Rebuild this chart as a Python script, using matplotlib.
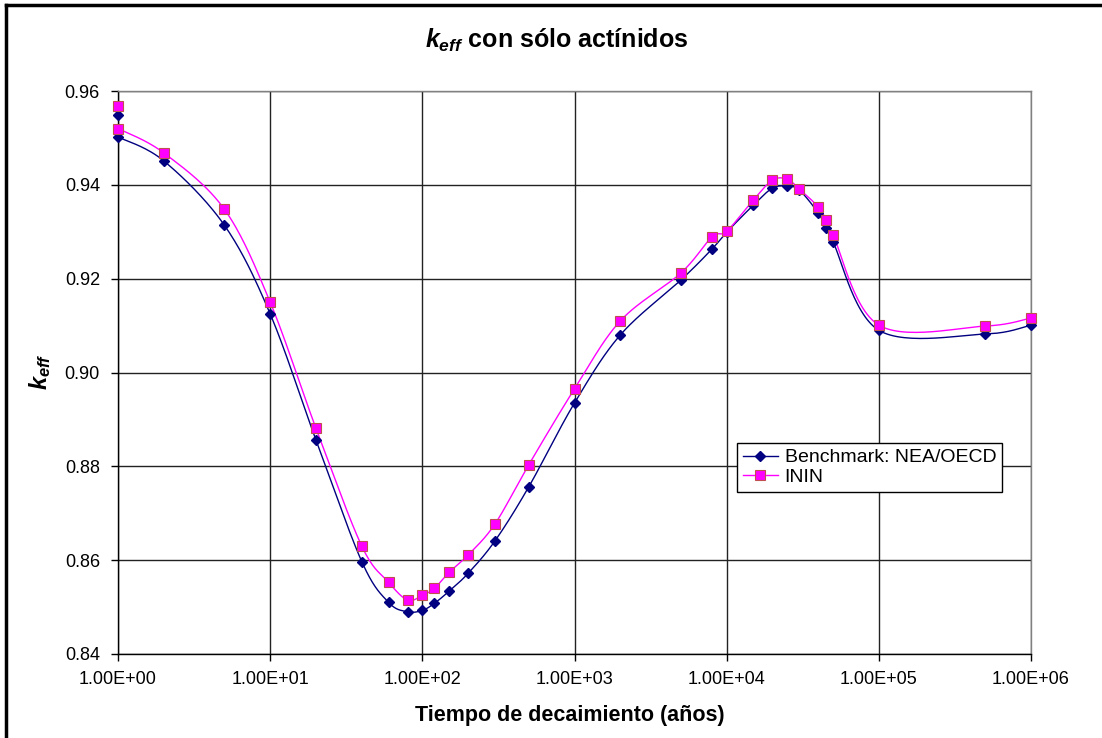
import numpy as np
import matplotlib
matplotlib.use("Agg")
import matplotlib.pyplot as plt
from matplotlib.lines import Line2D

plt.rcParams['font.family'] = ['Liberation Sans', 'DejaVu Sans']
plt.rcParams['mathtext.fontset'] = 'custom'
plt.rcParams['mathtext.it'] = 'Liberation Sans:italic:bold'
plt.rcParams['mathtext.rm'] = 'Liberation Sans:bold'
plt.rcParams['mathtext.bf'] = 'Liberation Sans:bold'

# ---- data ----
years = [1, 2, 5, 10, 20, 40, 60, 80, 100, 120, 150, 200, 300, 500, 1000,
         2000, 5000, 8000, 10000, 15000, 20000, 25000, 30000, 40000, 45000,
         50000, 100000, 500000, 1000000]
bench = [0.9502, 0.9451, 0.9314, 0.9125, 0.8856, 0.8597, 0.8510, 0.8490,
         0.8493, 0.8508, 0.8534, 0.8572, 0.8641, 0.8756, 0.8935,
         0.9080, 0.9197, 0.9263, 0.9299, 0.9357, 0.9393, 0.9397, 0.9389,
         0.9340, 0.9308, 0.9278, 0.9090, 0.9082, 0.9101]
inin = [0.9520, 0.9468, 0.9348, 0.9150, 0.8881, 0.8630, 0.8553, 0.8515,
        0.8525, 0.8540, 0.8574, 0.8611, 0.8677, 0.8803, 0.8965,
        0.9110, 0.9212, 0.9289, 0.9301, 0.9368, 0.9410, 0.9412, 0.9391,
        0.9353, 0.9325, 0.9293, 0.9101, 0.9099, 0.9116]
# fresh-fuel values (time 0), drawn at the left edge of the log axis
bench_t0 = 0.9549
inin_t0 = 0.9568

series_names = ["Benchmark: NEA/OECD", "ININ"]
yticks = [0.84, 0.86, 0.88, 0.90, 0.92, 0.94, 0.96]
xticks = [1e0, 1e1, 1e2, 1e3, 1e4, 1e5, 1e6]
xticklabels = ["1.00E+00", "1.00E+01", "1.00E+02", "1.00E+03", "1.00E+04",
               "1.00E+05", "1.00E+06"]

XMIN, XMAX, YMIN, YMAX = 1, 1e6, 0.84, 0.96

fig = plt.figure(figsize=(11.02, 7.38), dpi=100)
ax = fig.add_axes([118/1102, 1-654/738, (1031-118)/1102, (654-91)/738])
ax.set_xscale('log')
ax.set_xlim(XMIN, XMAX)
ax.set_ylim(YMIN, YMAX)


def smooth(xs, ys, n=30):
    # Catmull-Rom spline in display-like space (log x, linear y)
    u = np.log10(np.asarray(xs, float)) / 6.0 * 913
    v = (np.asarray(ys, float) - YMIN) / (YMAX - YMIN) * 563
    P = np.column_stack([u, v])
    P = np.vstack([P[0], P, P[-1]])
    out = []
    for i in range(1, len(P) - 2):
        p0, p1, p2, p3 = P[i-1], P[i], P[i+1], P[i+2]
        t = np.linspace(0, 1, n, endpoint=False)[:, None]
        c = 0.5 * ((2*p1) + (-p0+p2)*t + (2*p0-5*p1+4*p2-p3)*t**2 +
                   (-p0+3*p1-3*p2+p3)*t**3)
        out.append(c)
    out.append(P[-2][None, :])
    out = np.vstack(out)
    xs2 = 10 ** (out[:, 0] / 913 * 6.0)
    ys2 = out[:, 1] / 563 * (YMAX - YMIN) + YMIN
    return xs2, ys2


navy = '#000080'
mag = '#FF00FF'
sq_edge = '#C0504D'

bx, by = smooth(years, bench)
ix, iy = smooth(years, inin)
ax.plot(bx, by, color=navy, lw=1.0, zorder=3, clip_on=False)
ax.plot(ix, iy, color=mag, lw=1.0, zorder=3, clip_on=False)
ax.plot(years + [1], bench + [bench_t0], ls='none', marker='D', ms=5,
        color=navy, mec=navy, zorder=4, clip_on=False)
ax.plot(years + [1], inin + [inin_t0], ls='none', marker='s', ms=7,
        color=mag, mec=sq_edge, mew=0.8, zorder=5, clip_on=False)

ax.set_xticks(xticks)
ax.set_xticklabels(xticklabels)
ax.xaxis.set_minor_locator(matplotlib.ticker.NullLocator())
ax.set_yticks(yticks)
ax.set_yticklabels([f"{t:.2f}" for t in yticks])
ax.tick_params(axis='both', which='major', direction='out', length=5,
               width=1, color='black', labelsize=13, colors='black')
ax.tick_params(axis='x', pad=7)
ax.tick_params(axis='y', pad=8)
for lab in ax.get_xticklabels() + ax.get_yticklabels():
    lab.set_color('black')

ax.grid(True, which='major', color='#222222', lw=1.0, zorder=1)
ax.set_axisbelow(True)
ax.spines['left'].set_color('black')
ax.spines['bottom'].set_color('black')
ax.spines['top'].set_color('#808080')
ax.spines['right'].set_color('#808080')
for s in ax.spines.values():
    s.set_linewidth(1.0)

handles = [
    Line2D([0], [0], color=navy, lw=1.0, marker='D', ms=5, mec=navy),
    Line2D([0], [0], color=mag, lw=1.0, marker='s', ms=7, mfc=mag,
           mec=sq_edge, mew=0.8),
]
leg = ax.legend(handles, series_names, loc='upper left',
                bbox_to_anchor=((737-118)/913, (654-443)/563),
                borderaxespad=0, fontsize=14, frameon=True, fancybox=False,
                edgecolor='black', framealpha=1, handlelength=1.8,
                handletextpad=0.35, borderpad=0.3, labelspacing=0.1)
leg.get_frame().set_linewidth(1.0)
leg.set_zorder(10)

fig.text(557/1102, 1-40/738, r'$k_{eff}$ con sólo actínidos',
         ha='center', va='center', fontsize=18, fontweight='bold')
fig.text(570/1102, 1-716/738, 'Tiempo de decaimiento (años)',
         ha='center', va='center', fontsize=15.5, fontweight='bold')
fig.text(40/1102, 1-372/738, r'$k_{eff}$', ha='center', va='center',
         rotation=90, fontsize=17, fontweight='bold')

# outer chart border (top and left edges visible)
fig.add_artist(Line2D([6/1102, 6/1102], [0, 1-5/738], color='black', lw=2.5,
                      transform=fig.transFigure))
fig.add_artist(Line2D([6/1102, 1], [1-5/738, 1-5/738], color='black', lw=2.5,
                      transform=fig.transFigure))

fig.savefig('out.png', dpi=100)
